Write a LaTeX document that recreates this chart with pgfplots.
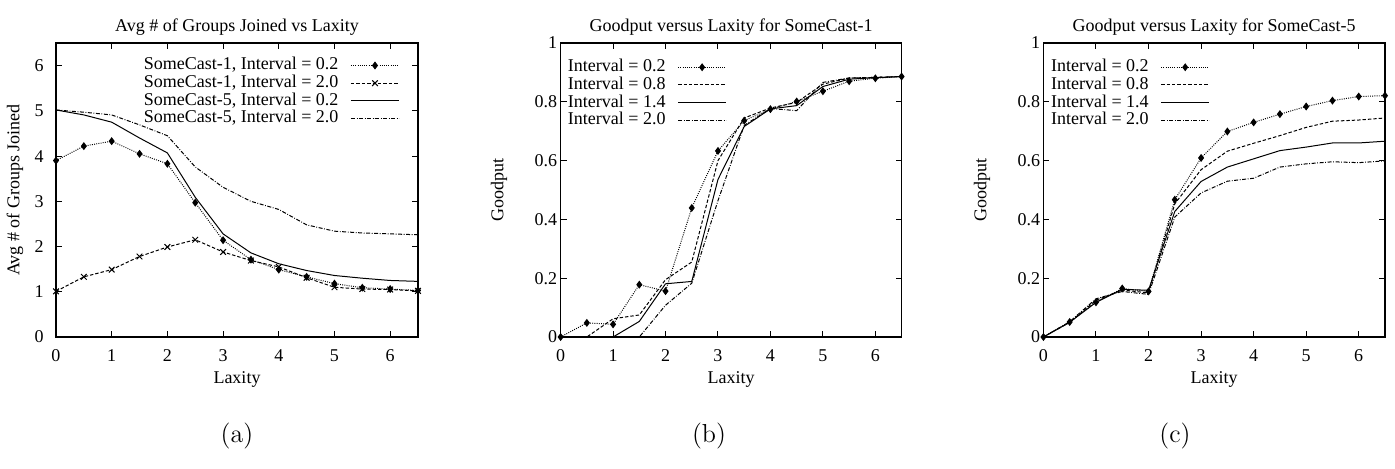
\documentclass[border=0pt]{standalone}
\usepackage{fontspec}
\setmainfont{Liberation Serif}
\newfontfamily\lmfont{Latin Modern Roman}
\usepackage{pgfplots}
\usepackage{pgfplotstable}
\pgfplotsset{compat=1.18}

\pgfplotstableread{
x s1a s1b s5a s5b
0 3.90 1.01 5.02 5.02
0.5 4.22 1.33 4.91 4.97
1 4.33 1.49 4.75 4.91
1.5 4.05 1.78 4.40 4.69
2 3.83 1.99 4.07 4.45
2.5 2.97 2.15 3.09 3.76
3 2.14 1.88 2.28 3.31
3.5 1.71 1.69 1.86 3.00
4 1.49 1.55 1.62 2.82
4.5 1.33 1.31 1.47 2.48
5 1.18 1.10 1.36 2.34
5.5 1.09 1.06 1.30 2.30
6 1.06 1.05 1.25 2.28
6.5 1.03 1.02 1.23 2.26
}\tabA

\pgfplotstableread{
x i02 i08 i14 i20
0 0 0 0 0
0.5 0.048 0 0 0
1 0.043 0.062 0 0
1.5 0.178 0.075 0.053 0
2 0.156 0.195 0.181 0.108
2.5 0.439 0.255 0.189 0.183
3 0.633 0.600 0.536 0.464
3.5 0.736 0.745 0.716 0.720
4 0.775 0.779 0.776 0.777
4.5 0.801 0.798 0.787 0.770
5 0.836 0.860 0.852 0.866
5.5 0.870 0.881 0.877 0.881
6 0.880 0.883 0.882 0.883
6.5 0.886 0.886 0.886 0.886
}\tabB

\pgfplotstableread{
x i02 i08 i14 i20
0 0 0 0 0
0.5 0.051 0.050 0.050 0.052
1 0.118 0.125 0.118 0.130
1.5 0.165 0.160 0.162 0.155
2 0.155 0.150 0.159 0.145
2.5 0.467 0.453 0.427 0.408
3 0.609 0.569 0.529 0.490
3.5 0.699 0.632 0.578 0.530
4 0.730 0.659 0.606 0.540
4.5 0.758 0.685 0.634 0.578
5 0.784 0.713 0.646 0.589
5.5 0.804 0.734 0.660 0.596
6 0.818 0.738 0.660 0.593
6.5 0.821 0.745 0.666 0.599
}\tabC

\tikzset{
  gpdot/.style={line width=0.5pt, dash pattern=on 0.45pt off 0.65pt},
  gpdash/.style={line width=0.5pt, dash pattern=on 1.7pt off 1.0pt},
  gpsolid/.style={line width=0.5pt, solid},
  gpdashdot/.style={line width=0.5pt, dash pattern=on 2pt off 0.8pt on 0.4pt off 0.8pt},
}

\pgfplotsset{
  gp/.style={
    scale only axis,
    height=147pt,
    xmin=0, xmax=6.5,
    xtick={0,1,2,3,4,5,6},
    tick align=inside,
    tick pos=both,
    major tick length=3pt,
    axis line style={line width=0.65pt, black},
    every tick/.style={line width=0.5pt, black},
    clip=false,
    /pgf/number format/assume math mode=true,
    tick label style={font=\fontsize{9}{10}\selectfont},
    xticklabel style={inner sep=0pt, anchor=north, yshift=-6.3pt},
    label style={font=\fontsize{9}{10}\selectfont},
    every axis title shift=0pt,
    title style={font=\fontsize{9}{10}\selectfont, anchor=center, yshift=0pt},
    xlabel style={at={(axis description cs:0.5,-0.146)}, anchor=center},
    legend plot pos=right,
    legend cell align=right,
    legend style={draw=none, fill=none, inner sep=0pt, anchor=north east,
      font=\fontsize{9}{10}\selectfont,
      nodes={inner xsep=0pt, inner ysep=0pt, text height=6.6pt, text depth=2.25pt},
      /tikz/every odd column/.style={column sep=6pt}},
    legend image code/.code={\draw[mark repeat=2, mark phase=2, #1] plot coordinates {(0pt,0pt) (12pt,0pt) (24pt,0pt)};},
    every axis plot/.append style={black},
  }
}

\begin{document}
\begin{tikzpicture}
\useasboundingbox (0,0) rectangle (697.5pt,234pt);

% (a)
\begin{axis}[gp,
  at={(28pt,65.5pt)}, anchor=south west,
  width=181pt,
  ymin=0, ymax=6.5, ytick={0,1,2,3,4,5,6},
  yticklabel style={inner sep=0pt, anchor=east, xshift=-6pt},
  title={Avg \# of Groups Joined vs Laxity},
  title style={at={(axis description cs:0.5,1.054)}},
  xlabel={Laxity},
  ylabel={Avg \# of Groups Joined},
  ylabel style={at={(axis description cs:-0.113,0.5)}, anchor=center},
  legend style={at={(axis description cs:0.950,0.955)}},
]
\addplot[gpdot, mark=diamond*, mark size=1.6pt, mark options={solid}] table[x=x,y=s1a] {\tabA};
\addlegendentry{SomeCast-1, Interval = 0.2}
\addplot[gpdash, mark=x, mark size=2pt, mark options={solid}] table[x=x,y=s1b] {\tabA};
\addlegendentry{SomeCast-1, Interval = 2.0}
\addplot[gpsolid] table[x=x,y=s5a] {\tabA};
\addlegendentry{SomeCast-5, Interval = 0.2}
\addplot[gpdashdot] table[x=x,y=s5b] {\tabA};
\addlegendentry{SomeCast-5, Interval = 2.0}
\end{axis}

% (b)
\begin{axis}[gp,
  at={(280.3pt,65.5pt)}, anchor=south west,
  width=170.5pt,
  ymin=0, ymax=1, ytick={0,0.2,0.4,0.6,0.8,1},
  yticklabels={0,0.2,0.4,0.6,0.8,1},
  yticklabel style={inner sep=0pt, anchor=east, xshift=-1.6pt},
  title={Goodput versus Laxity for SomeCast-1},
  title style={at={(axis description cs:0.5,1.054)}},
  xlabel={Laxity},
  ylabel={Goodput},
  ylabel style={at={(axis description cs:-0.1806,0.5)}, anchor=center},
  legend style={at={(axis description cs:0.488,0.949)}},
]
\addplot[gpdot, mark=diamond*, mark size=1.6pt, mark options={solid}] table[x=x,y=i02] {\tabB};
\addlegendentry{Interval = 0.2}
\addplot[gpdash] table[x=x,y=i08] {\tabB};
\addlegendentry{Interval = 0.8}
\addplot[gpsolid] table[x=x,y=i14] {\tabB};
\addlegendentry{Interval = 1.4}
\addplot[gpdashdot] table[x=x,y=i20] {\tabB};
\addlegendentry{Interval = 2.0}
\end{axis}

% (c)
\begin{axis}[gp,
  at={(521.7pt,65.5pt)}, anchor=south west,
  width=170.8pt,
  ymin=0, ymax=1, ytick={0,0.2,0.4,0.6,0.8,1},
  yticklabels={0,0.2,0.4,0.6,0.8,1},
  yticklabel style={inner sep=0pt, anchor=east, xshift=-1.4pt},
  title={Goodput versus Laxity for SomeCast-5},
  title style={at={(axis description cs:0.5,1.054)}},
  xlabel={Laxity},
  ylabel={Goodput},
  ylabel style={at={(axis description cs:-0.1797,0.5)}, anchor=center},
  legend style={at={(axis description cs:0.488,0.949)}},
]
\addplot[gpdot, mark=diamond*, mark size=1.6pt, mark options={solid}] table[x=x,y=i02] {\tabC};
\addlegendentry{Interval = 0.2}
\addplot[gpdash] table[x=x,y=i08] {\tabC};
\addlegendentry{Interval = 0.8}
\addplot[gpsolid] table[x=x,y=i14] {\tabC};
\addlegendentry{Interval = 1.4}
\addplot[gpdashdot] table[x=x,y=i20] {\tabC};
\addlegendentry{Interval = 2.0}
\end{axis}

\node[font=\lmfont\fontsize{13}{15}\selectfont, anchor=center] at (118.5pt,16pt) {(a)};
\node[font=\lmfont\fontsize{13}{15}\selectfont, anchor=center] at (354.5pt,16pt) {(b)};
\node[font=\lmfont\fontsize{13}{15}\selectfont, anchor=center] at (587.5pt,16pt) {(c)};
\end{tikzpicture}
\end{document}
